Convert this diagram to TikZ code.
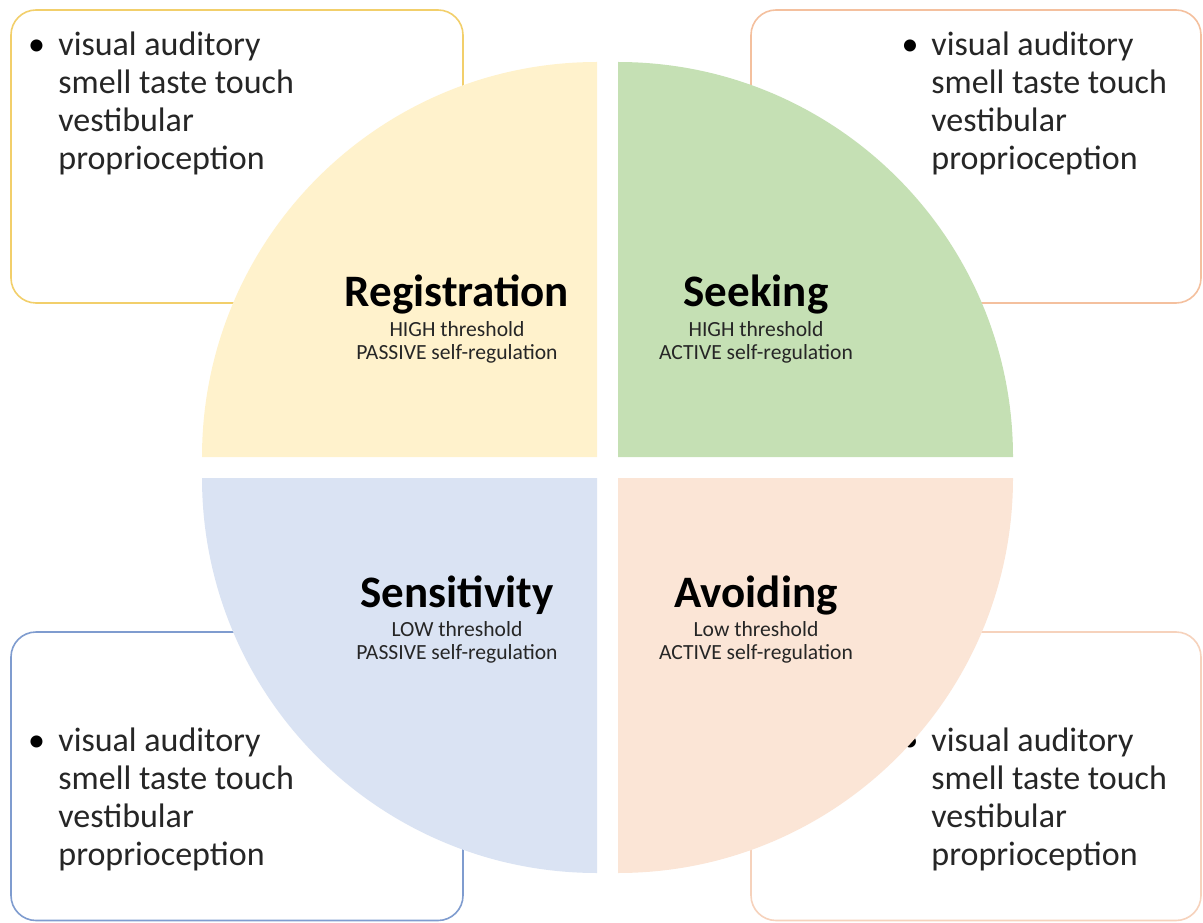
\documentclass[tikz,border=0pt]{standalone}
\usepackage{fontspec}
\setmainfont{Carlito}
\definecolor{regfill}{HTML}{FFF2CC}
\definecolor{seekfill}{HTML}{C5E0B4}
\definecolor{sensfill}{HTML}{DAE3F3}
\definecolor{avoidfill}{HTML}{FBE5D6}
\definecolor{regline}{HTML}{F2CF6B}
\definecolor{seekline}{HTML}{F4C09E}
\definecolor{sensline}{HTML}{7F9CCF}
\definecolor{avoidline}{HTML}{F6D2BC}
\definecolor{inkgray}{HTML}{262626}
\begin{document}
\begin{tikzpicture}
    [
    x=0.5pt,y=0.5pt,
    box/.style={line width=0.8pt,rounded corners=12.5pt,fill=white},
    items/.style={anchor=north west,inner sep=0pt,align=left,text=inkgray,font=\fontsize{17}{18.9}\selectfont},
    dot/.style={anchor=north,inner sep=0pt,text=black,font=\fontsize{17}{18.9}\selectfont},
    title/.style={anchor=base,inner sep=0pt,font=\fontsize{22.5}{26}\selectfont\bfseries},
    sub/.style={anchor=north,inner sep=0pt,align=center,text=inkgray,font=\fontsize{10.8}{11.5}\selectfont}
    ]
    \useasboundingbox (0,0) rectangle (1203,922);
    \draw [box,draw=regline] (11,619) rectangle (463,912);
    \draw [box,draw=seekline] (751,619) rectangle (1201,912);
    \draw [box,draw=sensline] (11,1.5) rectangle (463,290);
    \draw [box,draw=avoidline] (751,1.5) rectangle (1201,290);
    \node (regdot) at (36.5,893) [dot] {\strut\textbullet};
    \node (regitems) at (58,893) [items] {\strut visual auditory\\smell taste touch\\vestibular\\proprioception};
    \node (seekdot) at (910,893) [dot] {\strut\textbullet};
    \node (seekitems) at (931,893) [items] {\strut visual auditory\\smell taste touch\\vestibular\\proprioception};
    \node (sensdot) at (36.5,197) [dot] {\strut\textbullet};
    \node (sensitems) at (58,197) [items] {\strut visual auditory\\smell taste touch\\vestibular\\proprioception};
    \node (avoiddot) at (910,197) [dot] {\strut\textbullet};
    \node (avoiditems) at (931,197) [items] {\strut visual auditory\\smell taste touch\\vestibular\\proprioception};
    \fill [regfill] (597,465) -- (202,465) arc [start angle=180,end angle=90,radius=395] -- cycle;
    \fill [seekfill] (618,465) -- (618,860) arc [start angle=90,end angle=0,radius=395] -- cycle;
    \fill [sensfill] (597,444) -- (597,49) arc [start angle=270,end angle=180,radius=395] -- cycle;
    \fill [avoidfill] (618,444) -- (1013,444) arc [start angle=0,end angle=-90,radius=395] -- cycle;
    \node (reg) at (457,615) [title] {Registration};
    \node (regsub) at (457,602) [sub] {\strut HIGH threshold\\PASSIVE self-regulation};
    \node (seek) at (756,615) [title] {Seeking};
    \node (seeksub) at (756,602) [sub] {\strut HIGH threshold\\ACTIVE self-regulation};
    \node (sens) at (457,315) [title] {Sensitivity};
    \node (senssub) at (457,302) [sub] {\strut LOW threshold\\PASSIVE self-regulation};
    \node (avoid) at (756,315) [title] {Avoiding};
    \node (avoidsub) at (756,302) [sub] {\strut Low threshold\\ACTIVE self-regulation};
  \end{tikzpicture}
\end{document}
